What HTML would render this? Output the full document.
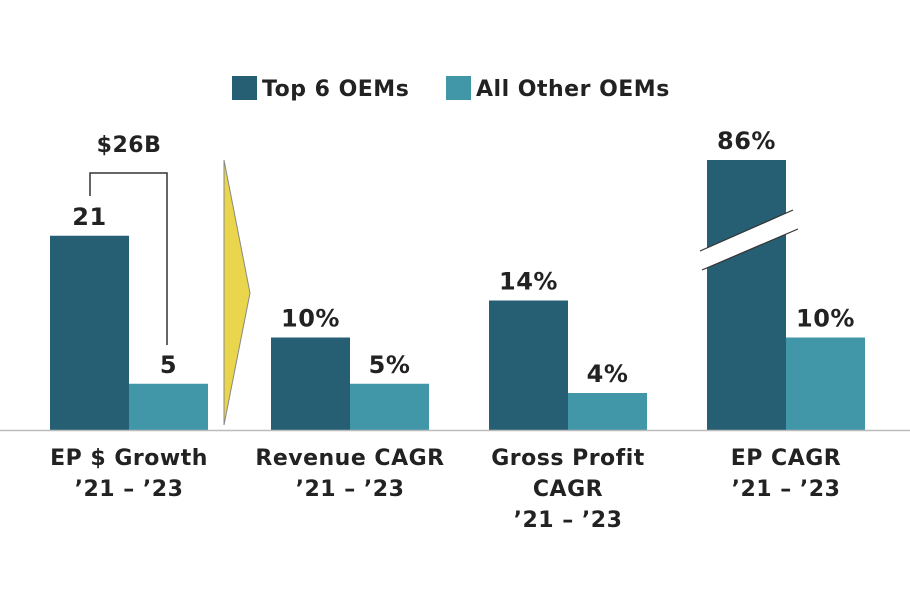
<!DOCTYPE html>
<html><head><meta charset="utf-8"><style>
body{margin:0;background:#fff;}
svg text{font-family:"DejaVu Sans","Liberation Sans",sans-serif;font-weight:bold;fill:#222;letter-spacing:0.5px;}
</style></head><body>
<svg id="chart" width="910" height="589" viewBox="0 0 910 589" xmlns="http://www.w3.org/2000/svg">
<rect width="910" height="589" fill="#fff"/>
<g>
<rect x="232" y="76" width="25" height="24" fill="#265E73"/>
<text x="262" y="96" font-size="22">Top 6 OEMs</text>
<rect x="446" y="76" width="25" height="24" fill="#4197A8"/>
<text x="476" y="96" font-size="22">All Other OEMs</text>
</g>
<polygon points="224,160 250,293 224,425" fill="#EAD64C" stroke="#888" stroke-width="1"/>
<g id="bars"></g>
<line x1="0" y1="430.5" x2="910" y2="430.5" stroke="#bbb" stroke-width="1.5"/>
<g stroke="#333" stroke-width="1.5" fill="none">
<polyline points="90,196 90,173 167,173 167,345"/>
</g>
<text x="129" y="152" font-size="22" text-anchor="middle">$26B</text>
</svg>
<script>
const categories=[["EP $ Growth","’21 – ’23"],["Revenue CAGR","’21 – ’23"],["Gross Profit","CAGR","’21 – ’23"],["EP CAGR","’21 – ’23"]];
const top6Values=[21,10,14,86];
const otherValues=[5,5,4,10];
const valueLabels=[["21","5"],["10%","5%"],["14%","4%"],["86%","10%"]];
const NS="http://www.w3.org/2000/svg";
const g=document.getElementById('bars');
const base=430, k=9.25, cap=270;
const groupCenters=[129,350,568,786], bw=79;
function yH(v){return Math.min(v*k,cap);}
function mk(t,a){const e=document.createElementNS(NS,t);for(const x in a)e.setAttribute(x,a[x]);g.appendChild(e);return e;}
categories.forEach((c,i)=>{
  const cx=groupCenters[i];
  [[top6Values[i],"#265E73",cx-bw,"top6"],[otherValues[i],"#4197A8",cx,"other"]].forEach(([v,col,x,s],j)=>{
    const h=yH(v);
    const r=mk('rect',{x:x,y:base-h,width:bw,height:h,fill:col});
    
    
    const t=mk('text',{x:x+bw/2,y:base-h-11,'font-size':24,'text-anchor':'middle'});
    t.textContent=valueLabels[i][j];
    
    
    if(v*k>cap){
      const b=mk('polygon',{points:(x-7)+","+(base-h+91)+" "+(x+86)+","+(base-h+50)+" "+(x+91)+","+(base-h+69)+" "+(x-5)+","+(base-h+110),fill:"#fff"});
      
      
      const l1=mk('line',{x1:x-7,y1:base-h+91,x2:x+86,y2:base-h+50,stroke:"#333","stroke-width":1.2});
      
      
      const l2=mk('line',{x1:x-5,y1:base-h+110,x2:x+91,y2:base-h+69,stroke:"#333","stroke-width":1.2});
      
      
    }
  });
  c.forEach((ln,li)=>{
    const t=mk('text',{x:cx,y:465+li*31,'font-size':22,'text-anchor':'middle'});
    t.textContent=ln;
    
    
  });
});
</script>
</body></html>
